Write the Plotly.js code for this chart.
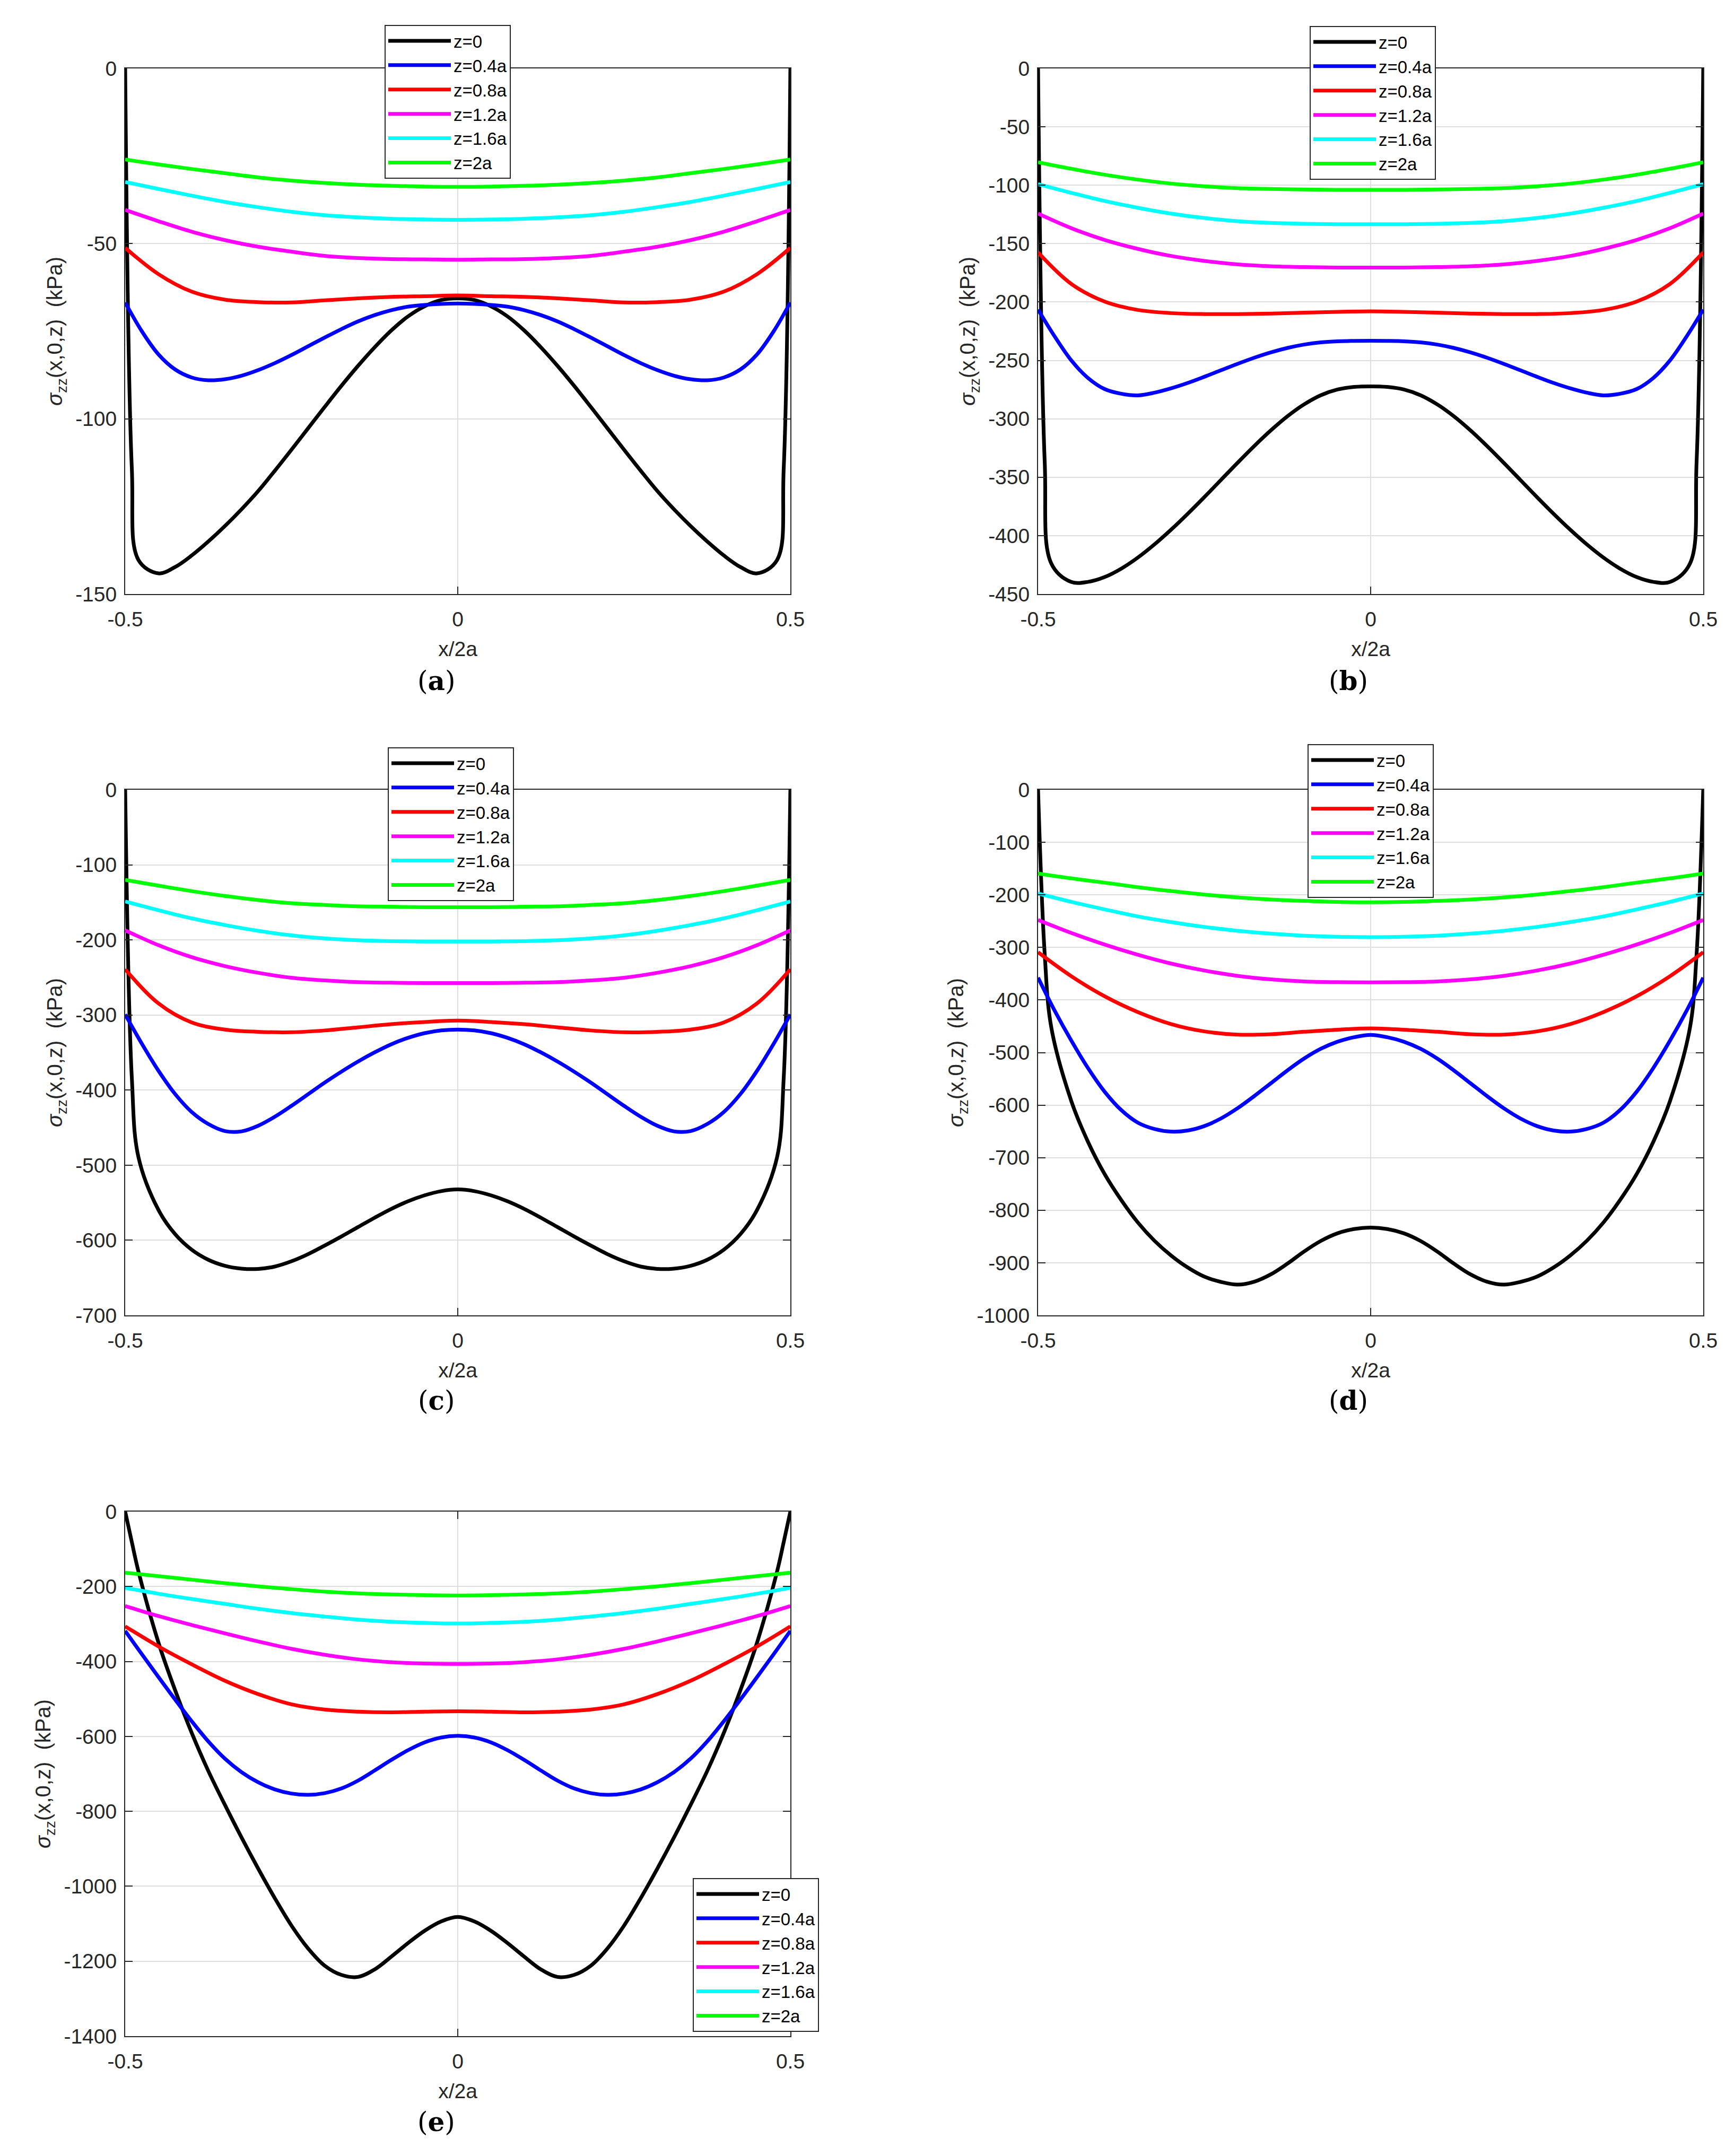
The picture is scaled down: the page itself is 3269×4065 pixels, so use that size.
<!DOCTYPE html>
<html>
<head>
<meta charset="utf-8">
<script src="https://cdn.plot.ly/plotly-3.0.1.min.js"></script>
<style>
html, body { margin: 0; padding: 0; background: #fff; }
</style>
</head>
<body>
<div id="chart" style="width:3269px;height:4065px"></div>
<script>
'use strict';

// x/2a sample positions
// z=0 curves: extra points at the steep edges
let xBlack = [-0.5, -0.49, -0.48, -0.45, -0.425, -0.4, -0.375, -0.35, -0.325, -0.3, -0.275, -0.25, -0.225,
    -0.2, -0.175, -0.15, -0.125, -0.1, -0.075, -0.05, -0.025, 0,
    0.025, 0.05, 0.075, 0.1, 0.125, 0.15, 0.175, 0.2, 0.225, 0.25, 0.275, 0.3, 0.325, 0.35, 0.375,
    0.4, 0.425, 0.45, 0.48, 0.49, 0.5];
// z=0.4a curves
let xFine = [-0.5, -0.475, -0.45, -0.425, -0.4, -0.375, -0.35, -0.325, -0.3, -0.275, -0.25, -0.225,
    -0.2, -0.175, -0.15, -0.125, -0.1, -0.075, -0.05, -0.025, 0,
    0.025, 0.05, 0.075, 0.1, 0.125, 0.15, 0.175, 0.2, 0.225, 0.25, 0.275, 0.3, 0.325, 0.35, 0.375,
    0.4, 0.425, 0.45, 0.475, 0.5];
// the flatter curves
let xGrid = [-0.5, -0.45, -0.4, -0.35, -0.3, -0.25, -0.2, -0.15, -0.1, -0.05, 0,
    0.05, 0.1, 0.15, 0.2, 0.25, 0.3, 0.35, 0.4, 0.45, 0.5];

let seriesNames = ['z=0', 'z=0.4a', 'z=0.8a', 'z=1.2a', 'z=1.6a', 'z=2a'];
let seriesColors = ['#000000', '#0000ff', '#ff0000', '#ff00ff', '#00ffff', '#00ff00'];

// panel (a)
let a_z0 = [0, -114.2, -140.3, -144.1, -142.3, -139.0, -135.0, -130.6, -125.8, -120.6, -114.8, -108.8, -102.7,
    -96.6, -90.6, -84.9, -79.6, -74.8, -70.8, -67.9, -66.1, -65.6,
    -66.1, -67.9, -70.8, -74.8, -79.6, -84.9, -90.6, -96.6, -102.7, -108.8, -114.8, -120.6, -125.8, -130.6, -135.0,
    -139.0, -142.3, -144.1, -140.3, -114.2, 0];
let a_z04 = [-66.8, -75.0, -81.6, -85.9, -88.2, -89.0, -88.7, -87.7, -86.1, -84.1, -81.8, -79.3,
    -76.8, -74.4, -72.2, -70.4, -69.0, -68.0, -67.5, -67.2, -67.1,
    -67.2, -67.5, -68.0, -69.0, -70.4, -72.2, -74.4, -76.8, -79.3, -81.8, -84.1, -86.1, -87.7, -88.7, -89.0,
    -88.2, -85.9, -81.6, -75.0, -66.8];
let a_z08 = [-51.2, -58.7, -63.7, -66.0, -66.7, -66.8, -66.2, -65.6, -65.2, -65.0, -64.8,
    -65.0, -65.2, -65.6, -66.2, -66.8, -66.7, -66.0, -63.7, -58.7, -51.2];
let a_z12 = [-40.4, -43.6, -46.6, -49.0, -50.9, -52.3, -53.5, -54.1, -54.4, -54.5, -54.6,
    -54.5, -54.4, -54.1, -53.5, -52.3, -50.9, -49.0, -46.6, -43.6, -40.4];
let a_z16 = [-32.4, -34.4, -36.3, -38.1, -39.6, -40.9, -41.9, -42.5, -42.9, -43.1, -43.2,
    -43.1, -42.9, -42.5, -41.9, -40.9, -39.6, -38.1, -36.3, -34.4, -32.4];
let a_z20 = [-26.0, -27.4, -28.7, -29.9, -31.1, -32.0, -32.7, -33.2, -33.5, -33.7, -33.8,
    -33.7, -33.5, -33.2, -32.7, -32.0, -31.1, -29.9, -28.7, -27.4, -26.0];

// panel (b)
let b_z0 = [0, -337, -424, -439.7, -439.6, -435.5, -428.3, -418.8, -407.5, -394.9, -381.3, -367.0, -352.3,
    -337.6, -323.3, -309.9, -297.8, -287.6, -279.8, -274.9, -272.7, -272.2,
    -272.7, -274.9, -279.8, -287.6, -297.8, -309.9, -323.3, -337.6, -352.3, -367.0, -381.3, -394.9, -407.5, -418.8, -428.3,
    -435.5, -439.6, -439.7, -424, -337, 0];
let b_z04 = [-206.5, -229.5, -250, -265, -274.5, -278.5, -279.9, -277.6, -273.9, -269.3, -264.0, -258.4,
    -252.9, -247.7, -243.1, -239.3, -236.4, -234.5, -233.6, -233.3, -233.2,
    -233.3, -233.6, -234.5, -236.4, -239.3, -243.1, -247.7, -252.9, -258.4, -264.0, -269.3, -273.9, -277.6, -279.9, -278.5,
    -274.5, -265, -250, -229.5, -206.5];
let b_z08 = [-157.5, -184.5, -199.6, -206.8, -209.5, -210.3, -210.3, -209.9, -209.1, -208.4, -208.0,
    -208.4, -209.1, -209.9, -210.3, -210.3, -209.5, -206.8, -199.6, -184.5, -157.5];
let b_z12 = [-124.3, -136.8, -146.8, -154.5, -160.6, -164.8, -167.8, -169.4, -170.1, -170.5, -170.5,
    -170.5, -170.1, -169.4, -167.8, -164.8, -160.6, -154.5, -146.8, -136.8, -124.3];
let b_z16 = [-99.0, -106.5, -113.5, -119.3, -124.3, -128.1, -130.8, -132.3, -133.0, -133.4, -133.4,
    -133.4, -133.0, -132.3, -130.8, -128.1, -124.3, -119.3, -113.5, -106.5, -99.0];
let b_z20 = [-80.3, -85.9, -91.0, -95.2, -98.6, -100.9, -102.5, -103.2, -103.6, -104.0, -104.0,
    -104.0, -103.6, -103.2, -102.5, -100.9, -98.6, -95.2, -91.0, -85.9, -80.3];

// panel (c)
let c_z0 = [0, -384, -489.5, -559.6, -591.8, -612.6, -626.0, -634.0, -637.8, -638.2, -635.0, -628.0, -618.5,
    -607.0, -595.0, -582.5, -570.0, -558.3, -548.2, -540.2, -534.6, -532.3,
    -534.6, -540.2, -548.2, -558.3, -570.0, -582.5, -595.0, -607.0, -618.5, -628.0, -635.0, -638.2, -637.8, -634.0, -626.0,
    -612.6, -591.8, -559.6, -489.5, -384, 0];
let c_z04 = [-299.2, -338.2, -374.2, -405.2, -429.2, -445.2, -454.6, -455.0, -447.5, -435.5, -421.0, -405.5,
    -390.0, -375.5, -362.0, -349.8, -339.0, -330.5, -324.2, -320.5, -319.4,
    -320.5, -324.2, -330.5, -339.0, -349.8, -362.0, -375.5, -390.0, -405.5, -421.0, -435.5, -447.5, -455.0, -454.6, -445.2,
    -429.2, -405.2, -374.2, -338.2, -299.2];
let c_z08 = [-239.1, -284.5, -309.9, -319.4, -322.4, -323.0, -320.6, -316.4, -312.2, -309.3, -307.5,
    -309.3, -312.2, -316.4, -320.6, -323.0, -322.4, -319.4, -309.9, -284.5, -239.1];
let c_z12 = [-187.3, -207.0, -223.0, -234.9, -243.8, -250.4, -254.0, -256.3, -257.0, -257.5, -257.5,
    -257.5, -257.0, -256.3, -254.0, -250.4, -243.8, -234.9, -223.0, -207.0, -187.3];
let c_z16 = [-148.7, -160.4, -171.3, -180.2, -187.9, -193.9, -198.0, -200.4, -201.6, -202.2, -202.2,
    -202.2, -201.6, -200.4, -198.0, -193.9, -187.9, -180.2, -171.3, -160.4, -148.7];
let c_z20 = [-120.1, -127.7, -135.0, -141.5, -146.9, -151.1, -153.4, -155.2, -155.8, -156.4, -156.4,
    -156.4, -155.8, -155.2, -153.4, -151.1, -146.9, -141.5, -135.0, -127.7, -120.1];

// panel (d)
let d_z0 = [0, -313, -453, -592.4, -669.7, -731, -780.5, -823.3, -858.1, -886.2, -909, -926.4, -936.4,
    -941.5, -936.0, -922.0, -901.5, -878.5, -858.5, -844.0, -835.8, -833,
    -835.8, -844.0, -858.5, -878.5, -901.5, -922.0, -936.0, -941.5, -936.4, -926.4, -909, -886.2, -858.1, -823.3, -780.5,
    -731, -669.7, -592.4, -453, -313, 0];
let d_z04 = [-357.4, -420.4, -477.4, -529.4, -574.4, -609.4, -633.4, -645.4, -650.4, -648.4, -639.9, -625.4,
    -605.9, -582.9, -558.4, -533.9, -511.4, -492.9, -479.4, -470.9, -466.4,
    -470.9, -479.4, -492.9, -511.4, -533.9, -558.4, -582.9, -605.9, -625.4, -639.9, -648.4, -650.4, -645.4, -633.4, -609.4,
    -574.4, -529.4, -477.4, -420.4, -357.4];
let d_z08 = [-309.2, -354.8, -392.9, -423, -445.8, -459.8, -465.9, -465.2, -460.5, -456.5, -454,
    -456.5, -460.5, -465.2, -465.9, -459.8, -445.8, -423, -392.9, -354.8, -309.2];
let d_z12 = [-247.7, -272.5, -294.5, -313.9, -330.7, -344, -354.1, -360.8, -364.8, -366.1, -366.6,
    -366.1, -364.8, -360.8, -354.1, -344, -330.7, -313.9, -294.5, -272.5, -247.7];
let d_z16 = [-197.5, -213.3, -227.6, -241, -251.7, -261, -268.4, -273.8, -277.8, -279.8, -280.4,
    -279.8, -277.8, -273.8, -268.4, -261, -251.7, -241, -227.6, -213.3, -197.5];
let d_z20 = [-159.3, -168.6, -176.7, -185.4, -192.8, -199.5, -204.8, -208.8, -211.5, -213.5, -214.2,
    -213.5, -211.5, -208.8, -204.8, -199.5, -192.8, -185.4, -176.7, -168.6, -159.3];

// panel (e)
let e_z0 = [0, -81.5, -160, -349.4, -476.4, -590.4, -692.4, -783, -870, -953, -1032, -1105, -1166,
    -1212, -1236.5, -1242, -1222, -1188, -1152, -1119, -1094, -1082,
    -1094, -1119, -1152, -1188, -1222, -1242, -1236.5, -1212, -1166, -1105, -1032, -953, -870, -783, -692.4,
    -590.4, -476.4, -349.4, -160, -81.5, 0];
let e_z04 = [-318.5, -380.5, -441.5, -501.5, -559.5, -613.5, -659.5, -695.5, -722.5, -741.5, -752.5, -756.0,
    -751.5, -739.0, -718.0, -691.0, -663.0, -637.0, -616.0, -603.0, -598.6,
    -603.0, -616.0, -637.0, -663.0, -691.0, -718.0, -739.0, -751.5, -756.0, -752.5, -741.5, -722.5, -695.5, -659.5, -613.5,
    -559.5, -501.5, -441.5, -380.5, -318.5];
let e_z08 = [-306.3, -359.8, -407.5, -451.5, -487.1, -514.3, -528.3, -534, -535.8, -534, -533,
    -534, -535.8, -534, -528.3, -514.3, -487.1, -451.5, -407.5, -359.8, -306.3];
let e_z12 = [-252, -278.8, -302.6, -325, -346.6, -366.3, -382.2, -394.4, -401.9, -405.6, -406.6,
    -405.6, -401.9, -394.4, -382.2, -366.3, -346.6, -325, -302.6, -278.8, -252];
let e_z16 = [-203.3, -219.2, -233.3, -246.4, -259.5, -270.7, -280.1, -288.5, -294.1, -297, -298.8,
    -297, -294.1, -288.5, -280.1, -270.7, -259.5, -246.4, -233.3, -219.2, -203.3];
let e_z20 = [-163, -172.4, -181.7, -191.1, -199.5, -207, -213.6, -218.3, -221.1, -223, -223.9,
    -223, -221.1, -218.3, -213.6, -207, -199.5, -191.1, -181.7, -172.4, -163];

// y tick values per panel
let a_yticks = [0, -50, -100, -150];
let b_yticks = [0, -50, -100, -150, -200, -250, -300, -350, -400, -450];
let c_yticks = [0, -100, -200, -300, -400, -500, -600, -700];
let d_yticks = [0, -100, -200, -300, -400, -500, -600, -700, -800, -900, -1000];
let e_yticks = [0, -200, -400, -600, -800, -1000, -1200, -1400];
let xTicks = [-0.5, 0, 0.5];

let panelLetters = ['a', 'b', 'c', 'd', 'e'];

// Figure size in px
const W = 3269;
const H = 4065;

// plot boxes in px [left, right, top, bottom]
let boxes = [
    [236, 1490, 129, 1120],
    [1957, 3211, 129, 1120],
    [236, 1490, 1489, 2480],
    [1957, 3211, 1489, 2480],
    [236, 1490, 2850, 3839]
];
// legend top-left corners in px
let legendPos = [
    [725, 47],
    [2469, 49],
    [731, 1409],
    [2465, 1403],
    [1306, 3541]
];
// panel label centers in px
let letterPos = [
    [822, 1284],
    [2542, 1284],
    [822, 2640],
    [2542, 2640],
    [822, 4000]
];

let panels = [
    {series: [a_z0, a_z04, a_z08, a_z12, a_z16, a_z20], yticks: a_yticks},
    {series: [b_z0, b_z04, b_z08, b_z12, b_z16, b_z20], yticks: b_yticks},
    {series: [c_z0, c_z04, c_z08, c_z12, c_z16, c_z20], yticks: c_yticks},
    {series: [d_z0, d_z04, d_z08, d_z12, d_z16, d_z20], yticks: d_yticks},
    {series: [e_z0, e_z04, e_z08, e_z12, e_z16, e_z20], yticks: e_yticks}
];
let seriesX = [xBlack, xFine, xGrid, xGrid, xGrid, xGrid];

let tickFont = {family: 'Liberation Sans, Arial, sans-serif', size: 39, color: '#262626'};
let axisColor = '#262626';
let gridColor = '#dedede';

function makeAxes(i, layout) {
    let box = boxes[i];
    let suffix = i === 0 ? '' : String(i + 1);
    let yt = panels[i].yticks;
    let ymin = Math.min.apply(null, yt);

    let common = {
        ticks: 'inside',
        ticklen: 14,
        tickwidth: 2,
        tickcolor: axisColor,
        showline: true,
        linecolor: axisColor,
        linewidth: 2,
        mirror: 'ticks',
        showgrid: true,
        gridcolor: gridColor,
        gridwidth: 2,
        zeroline: false,
        tickfont: tickFont
    };

    layout['xaxis' + suffix] = Object.assign({}, common, {
        domain: [box[0] / W, box[1] / W],
        anchor: 'y' + suffix,
        range: [-0.5, 0.5],
        tickvals: xTicks,
        ticktext: xTicks.map(v => String(v)),
        ticklabelstandoff: 12,
        title: {text: 'x/2a', font: tickFont, standoff: 22}
    });
    layout['yaxis' + suffix] = Object.assign({}, common, {
        domain: [1 - box[3] / H, 1 - box[2] / H],
        anchor: 'x' + suffix,
        range: [ymin, 0],
        tickvals: yt,
        ticktext: yt.map(v => String(v)),
        ticklabelstandoff: 6,
        title: {
            text: '<i>σ</i><sub>zz</sub>(x,0,z)  (kPa)',
            font: {family: tickFont.family, size: 40, color: tickFont.color},
            standoff: 12
        }
    });

    let lg = legendPos[i];
    layout[i === 0 ? 'legend' : 'legend' + (i + 1)] = {
        x: lg[0] / W,
        y: 1 - lg[1] / H,
        xanchor: 'left',
        yanchor: 'top',
        bgcolor: '#ffffff',
        bordercolor: axisColor,
        borderwidth: 2,
        itemwidth: 118,
        font: {family: 'Liberation Sans, Arial, sans-serif', size: 33, color: '#000000'}
    };
}

function makeTraces(i) {
    let suffix = i === 0 ? '' : String(i + 1);
    let traces = [];
    panels[i].series.forEach(function (ys, k) {
        traces.push({
            x: seriesX[k],
            y: ys,
            type: 'scatter',
            mode: 'lines',
            name: seriesNames[k],
            xaxis: 'x' + suffix,
            yaxis: 'y' + suffix,
            legend: i === 0 ? 'legend' : 'legend' + (i + 1),
            line: {color: seriesColors[k], width: 7, shape: 'spline', smoothing: 1}
        });
    });
    return traces;
}

let data = [];
let layout = {
    width: W,
    height: H,
    margin: {l: 0, r: 0, t: 0, b: 0},
    paper_bgcolor: '#ffffff',
    plot_bgcolor: '#ffffff',
    showlegend: true,
    annotations: []
};

for (let i = 0; i < panels.length; i++) {
    data = data.concat(makeTraces(i));
    makeAxes(i, layout);
    layout.annotations.push({
        xref: 'paper',
        yref: 'paper',
        x: letterPos[i][0] / W,
        y: 1 - letterPos[i][1] / H,
        xanchor: 'center',
        yanchor: 'middle',
        showarrow: false,
        text: '(<b>' + panelLetters[i] + '</b>)',
        font: {family: 'DejaVu Serif, Liberation Serif, serif', size: 50, color: '#000000'}
    });
}

Plotly.newPlot('chart', data, layout, {displayModeBar: false, staticPlot: true});
</script>
</body>
</html>
